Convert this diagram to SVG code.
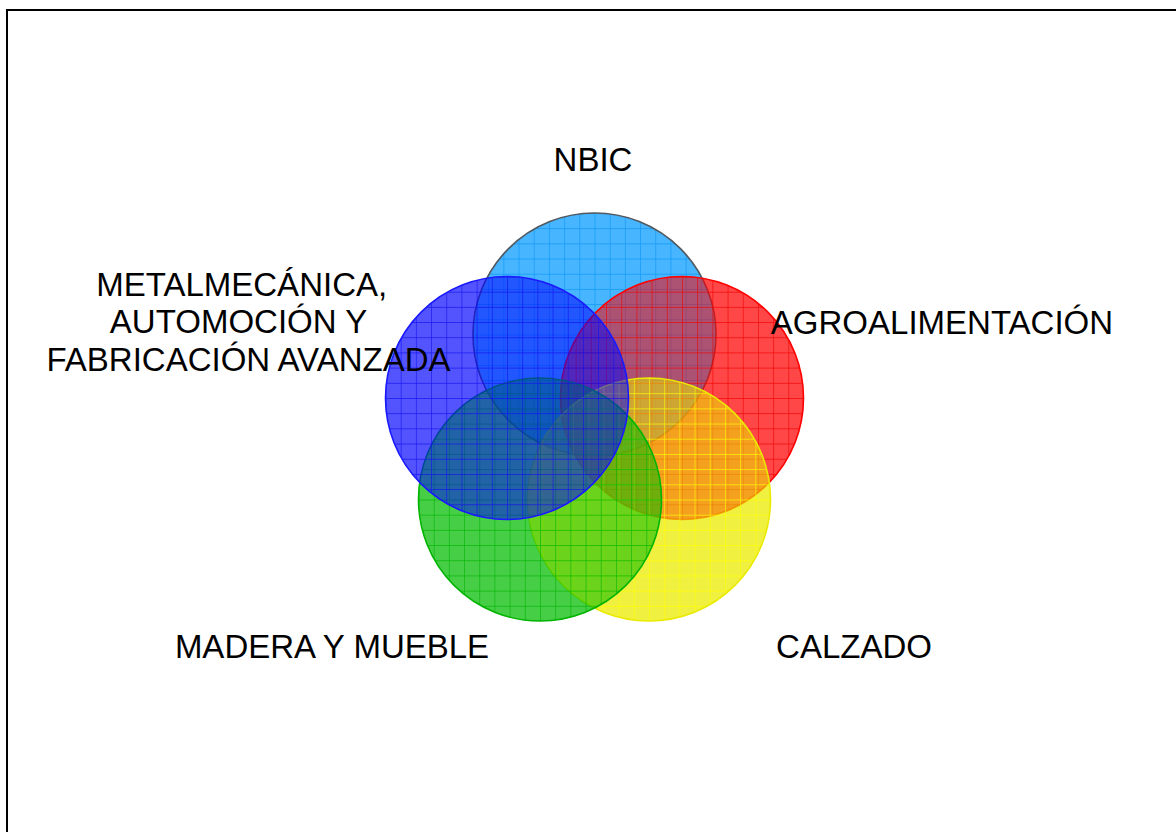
<svg xmlns="http://www.w3.org/2000/svg" width="1176" height="832" viewBox="0 0 1176 832">
<style>
.lbl{font-family:"Liberation Sans",Arial,sans-serif;font-size:33px;fill:#000;text-anchor:middle}
.grid{stroke-width:1.3;fill:none;stroke-opacity:0.9}
.m{fill:#000}
</style>
<defs>
<pattern id="pNBIC" patternUnits="userSpaceOnUse" x="473" y="213" width="15.1875" height="15.1875"><path class="grid" stroke="#0a95f5" d="M0 0H15.1875M0 0V15.1875"/></pattern>
<pattern id="pAGRO" patternUnits="userSpaceOnUse" x="560.5" y="276.5" width="15.1875" height="15.1875"><path class="grid" stroke="#f00000" d="M0 0H15.1875M0 0V15.1875"/></pattern>
<pattern id="pCALZ" patternUnits="userSpaceOnUse" x="527.5" y="378" width="15.1875" height="15.1875"><path class="grid" stroke="#ffff00" d="M0 0H15.1875M0 0V15.1875"/></pattern>
<pattern id="pMADE" patternUnits="userSpaceOnUse" x="418.5" y="378" width="15.1875" height="15.1875"><path class="grid" stroke="#00b400" d="M0 0H15.1875M0 0V15.1875"/></pattern>
<pattern id="pMETA" patternUnits="userSpaceOnUse" x="385.5" y="276.5" width="15.1875" height="15.1875"><path class="grid" stroke="#1010f0" d="M0 0H15.1875M0 0V15.1875"/></pattern>
<mask id="mAGRO" maskUnits="userSpaceOnUse" x="0" y="0" width="1176" height="832">
<rect width="1176" height="832" fill="#fff"/>
<circle class="m" cx="594.5" cy="334.5" r="121.5"/>
</mask>
<mask id="mCALZ" maskUnits="userSpaceOnUse" x="0" y="0" width="1176" height="832">
<rect width="1176" height="832" fill="#fff"/>
<circle class="m" cx="594.5" cy="334.5" r="121.5"/>
<circle class="m" cx="682" cy="398" r="121.5"/>
</mask>
<mask id="mMADE" maskUnits="userSpaceOnUse" x="0" y="0" width="1176" height="832">
<rect width="1176" height="832" fill="#fff"/>
<circle class="m" cx="594.5" cy="334.5" r="121.5"/>
<circle class="m" cx="682" cy="398" r="121.5"/>
<circle class="m" cx="649" cy="499.5" r="121.5"/>
</mask>
<mask id="mMETA" maskUnits="userSpaceOnUse" x="0" y="0" width="1176" height="832">
<rect width="1176" height="832" fill="#fff"/>
<circle class="m" cx="594.5" cy="334.5" r="121.5"/>
<circle class="m" cx="682" cy="398" r="121.5"/>
<circle class="m" cx="649" cy="499.5" r="121.5"/>
<circle class="m" cx="540" cy="499.5" r="121.5"/>
</mask>
</defs>
<rect x="7" y="10" width="1180" height="830" fill="#fff" stroke="#000" stroke-width="2"/>
<g id="connectors"/>
<g id="nbic">
<circle cx="594.5" cy="334.5" r="121.5" fill="#0099ff" fill-opacity="0.72"/>
<circle cx="594.5" cy="334.5" r="121.5" fill="url(#pNBIC)" stroke="#505860" stroke-width="1.6"/>
<text class="lbl" x="593" y="171">NBIC</text>
</g>
<g id="agro">
<circle cx="682" cy="398" r="121.5" fill="#ff0000" fill-opacity="0.55"/>
<circle cx="682" cy="398" r="121.5" fill="#ff0000" fill-opacity="0.38" mask="url(#mAGRO)"/>
<circle cx="682" cy="398" r="121.5" fill="url(#pAGRO)" stroke="#ff0000" stroke-width="1.6"/>
<text class="lbl" x="942" y="334">AGROALIMENTACIÓN</text>
</g>
<g id="calzado">
<circle cx="649" cy="499.5" r="121.5" fill="#ebeb00" fill-opacity="0.55"/>
<circle cx="649" cy="499.5" r="121.5" fill="#ebeb00" fill-opacity="0.44" mask="url(#mCALZ)"/>
<circle cx="649" cy="499.5" r="121.5" fill="url(#pCALZ)" stroke="#eaea00" stroke-width="1.6"/>
<text class="lbl" x="854" y="658">CALZADO</text>
</g>
<g id="madera">
<circle cx="540" cy="499.5" r="121.5" fill="#00bb00" fill-opacity="0.55"/>
<circle cx="540" cy="499.5" r="121.5" fill="#00bb00" fill-opacity="0.38" mask="url(#mMADE)"/>
<circle cx="540" cy="499.5" r="121.5" fill="url(#pMADE)" stroke="#00b400" stroke-width="1.6"/>
<text class="lbl" x="332" y="658">MADERA Y MUEBLE</text>
</g>
<g id="metal">
<circle cx="507" cy="398" r="121.5" fill="#0000ff" fill-opacity="0.52"/>
<circle cx="507" cy="398" r="121.5" fill="#0000ff" fill-opacity="0.31" mask="url(#mMETA)"/>
<circle cx="507" cy="398" r="121.5" fill="url(#pMETA)" stroke="#1a1aff" stroke-width="1.6"/>
<text class="lbl" x="241.7" y="296">METALMECÁNICA,</text>
<text class="lbl" x="238.5" y="333">AUTOMOCIÓN Y</text>
<text class="lbl" x="248.5" y="371">FABRICACIÓN AVANZADA</text>
</g>
</svg>
